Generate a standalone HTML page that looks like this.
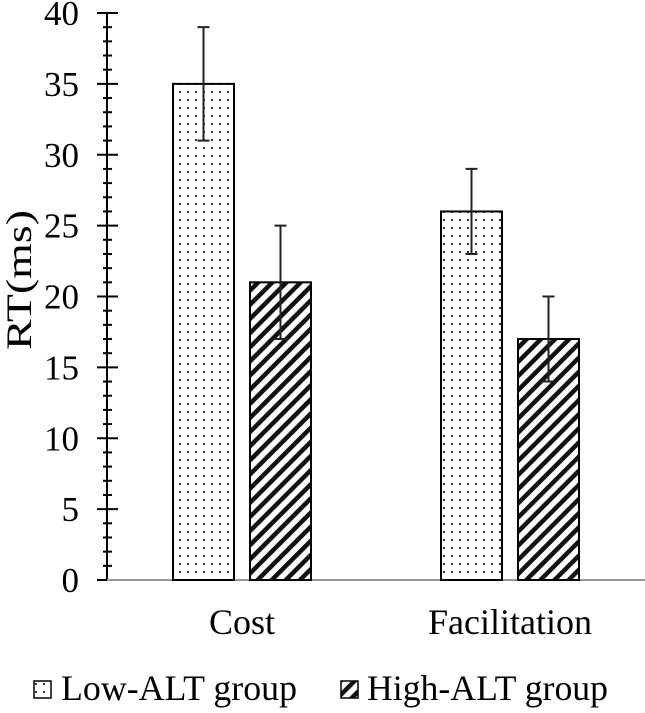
<!DOCTYPE html>
<html><head><meta charset="utf-8"><style>
body{margin:0;background:#fff}
svg text{font-family:"Liberation Serif",serif;fill:#000}
</style></head><body>
<svg id="chart" width="645" height="708" viewBox="0 0 645 708">
<defs>
<pattern id="dots" width="8" height="8" patternUnits="userSpaceOnUse"><rect x="3" y="3" width="2" height="2" fill="#333"/></pattern>
<pattern id="hatch" width="10" height="10" patternUnits="userSpaceOnUse" patternTransform="rotate(45)"><rect x="0" y="0" width="4.5" height="10" fill="#111"/></pattern>
</defs>
<g id="axes"></g>
<g id="bars"></g>
<text x="-280" y="31" font-size="36" text-anchor="middle" textLength="140" lengthAdjust="spacingAndGlyphs" transform="rotate(-90)">RT(ms)</text>
<g>
<rect x="34" y="681" width="17" height="17" fill="url(#dots)" stroke="#000" stroke-width="1.5"/>
<text x="61" y="700" font-size="36" textLength="236" lengthAdjust="spacingAndGlyphs">Low-ALT group</text>
<rect x="341" y="681" width="17" height="17" fill="url(#hatch)" stroke="#000" stroke-width="1.5"/>
<text x="367" y="700" font-size="36" textLength="241" lengthAdjust="spacingAndGlyphs">High-ALT group</text>
</g>
</svg>
<script>
const categories=["Cost","Facilitation"];
const lowValues=[35,26];
const lowErr=[4,3];
const highValues=[21,17];
const highErr=[4,3];
const yTicks=[0,5,10,15,20,25,30,35,40];
const NS="http://www.w3.org/2000/svg";
const y=v=>580-v*14.175;
const catCenter=i=>242+i*268;
function mk(tag,attrs,parent){const e=document.createElementNS(NS,tag);for(const k in attrs)e.setAttribute(k,attrs[k]);parent.appendChild(e);return e;}
const axes=document.getElementById('axes'),bars=document.getElementById('bars');
let l=mk('line',{x1:107,x2:107,y1:y(40),y2:y(0),stroke:'#000','stroke-width':2},axes);


for(let v=0;v<=40;v++){const major=v%5===0;const t=mk('line',{x1:major?97:103,x2:major?118:112,y1:y(v),y2:y(v),stroke:'#000','stroke-width':2},axes);

}
yTicks.forEach(v=>{const s=String(v);const t=mk('text',{x:79,y:y(v)+12,'font-size':35,'text-anchor':'end'},axes);t.textContent=s;

});
const xa=mk('line',{x1:107,x2:645,y1:y(0),y2:y(0),stroke:'#999','stroke-width':2},axes);


categories.forEach((c,i)=>{
 const cx=catCenter(i);
 [[lowValues,lowErr,'url(#dots)',-69,'low'],[highValues,highErr,'url(#hatch)',8,'high']].forEach(([vals,errs,fill,off,nm])=>{
  const v=vals[i],x=cx+off;
  const r=mk('rect',{x:x,y:y(v),width:61,height:y(0)-y(v),fill:fill,stroke:'#000','stroke-width':2},bars);
  
  
  const mx=x+30.5,e=errs[i];
  const g=mk('path',{d:`M${mx},${y(v+e)}V${y(v-e)}M${mx-6},${y(v+e)}H${mx+6}M${mx-6},${y(v-e)}H${mx+6}`,stroke:'#222','stroke-width':2,fill:'none'},bars);
  
  
 });
 const t=mk('text',{x:cx,y:634,'font-size':36,'text-anchor':'middle'},bars);t.textContent=c;
 
 
});
</script>
</body></html>
